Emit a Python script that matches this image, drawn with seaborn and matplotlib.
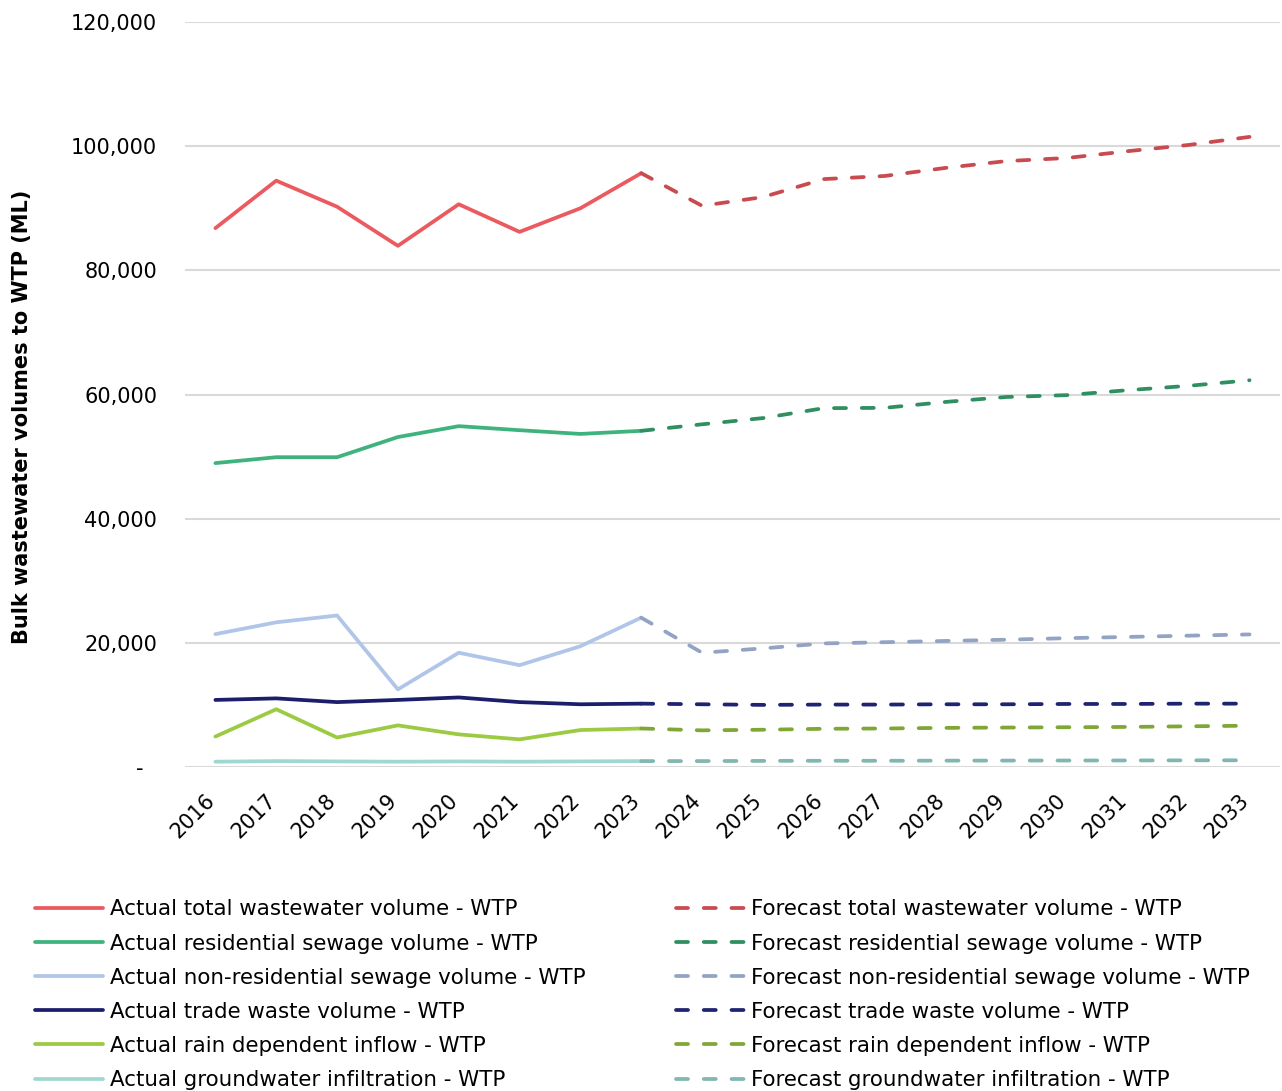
import matplotlib
matplotlib.use("Agg")
import matplotlib.pyplot as plt
import matplotlib.ticker as mticker
import matplotlib.transforms as mtransforms
from matplotlib.lines import Line2D
import seaborn as sns
import pandas as pd

# Years
actual_years = [2016, 2017, 2018, 2019, 2020, 2021, 2022, 2023]
forecast_years = [2024, 2025, 2026, 2027, 2028, 2029, 2030, 2031, 2032, 2033]

# Actual volumes (ML)
actual_total = [86800, 94450, 90250, 83950, 90650, 86200, 90000, 95650]
actual_residential = [48950, 49900, 49900, 53150, 54900, 54250, 53650, 54150]
actual_non_residential = [21400, 23300, 24400, 12500, 18400, 16400, 19450, 24050]
actual_trade = [10800, 11050, 10450, 10800, 11200, 10450, 10100, 10200]
actual_rain = [4900, 9300, 4750, 6700, 5250, 4450, 5950, 6200]
actual_groundwater = [850, 950, 900, 850, 900, 850, 900, 950]

# Forecast volumes (ML)
forecast_total = [90400, 91800, 94700, 95200, 96500, 97600, 98100, 99200, 100200, 101500]
forecast_residential = [55200, 56200, 57800, 57850, 58800, 59600, 59900, 60700, 61400, 62300]
forecast_non_residential = [18400, 19100, 19900, 20100, 20300, 20500, 20750, 20950, 21150, 21350]
forecast_trade = [10100, 10000, 10050, 10050, 10100, 10100, 10150, 10150, 10200, 10200]
forecast_rain = [5900, 6000, 6150, 6200, 6300, 6350, 6400, 6450, 6550, 6650]
forecast_groundwater = [950, 980, 1000, 1000, 1020, 1030, 1040, 1050, 1070, 1080]

series_names = [
    "total wastewater volume",
    "residential sewage volume",
    "non-residential sewage volume",
    "trade waste volume",
    "rain dependent inflow",
    "groundwater infiltration",
]
actual_values = [actual_total, actual_residential, actual_non_residential,
                 actual_trade, actual_rain, actual_groundwater]
forecast_values = [forecast_total, forecast_residential, forecast_non_residential,
                   forecast_trade, forecast_rain, forecast_groundwater]
actual_colors = ["#EB5A5E", "#3FB37C", "#B0C5E8", "#1B1E6A", "#9CCA42", "#A0D8D1"]
forecast_colors = ["#C94B50", "#2F8F60", "#92A3C3", "#1E2470", "#80A636", "#82B6B0"]

sns.set_theme(style="white")
plt.rcParams["font.family"] = ["DejaVu Sans"]
plt.rcParams["text.color"] = "#000000"

fig = plt.figure(figsize=(12.82, 10.91), dpi=100)
ax = fig.add_axes([0.1443, 0.2970, 0.8541, 0.6828])

LW = 2.7
dash = (0, (3.2, 4.2))

for name, a_vals, f_vals, ac, fc in zip(series_names, actual_values, forecast_values,
                                        actual_colors, forecast_colors):
    df_a = pd.DataFrame({"Year": actual_years, "Volume": a_vals})
    sns.lineplot(data=df_a, x="Year", y="Volume", ax=ax, color=ac, lw=LW,
                 solid_capstyle="round", solid_joinstyle="round")
    df_f = pd.DataFrame({"Year": [actual_years[-1]] + forecast_years,
                         "Volume": [a_vals[-1]] + f_vals})
    sns.lineplot(data=df_f, x="Year", y="Volume", ax=ax, color=fc, lw=LW,
                 linestyle=dash, dash_capstyle="round", dash_joinstyle="round")

ax.set_xlim(2015.5, 2033.5)
ax.set_ylim(0, 120000)
ax.set_yticks(range(0, 120001, 20000))
ax.yaxis.set_major_formatter(mticker.FuncFormatter(
    lambda v, p: "-  " if v == 0 else f"{v:,.0f}"))
ax.set_xticks(actual_years + forecast_years)
ax.set_xticklabels([str(y) for y in actual_years + forecast_years])

for s in ax.spines.values():
    s.set_visible(False)
ax.grid(axis="y", color="#D9D9D9", lw=1.5)
ax.grid(axis="x", visible=False)
ax.set_axisbelow(True)

ax.tick_params(axis="y", length=0, pad=20, labelsize=15, colors="#000000")
ax.tick_params(axis="x", length=0, pad=22, labelsize=15, colors="#000000")
shift = mtransforms.ScaledTranslation(-4 / 100, 0, fig.dpi_scale_trans)
for lbl in ax.get_xticklabels():
    lbl.set_rotation(45)
    lbl.set_ha("right")
    lbl.set_va("center")
    lbl.set_rotation_mode("anchor")
    lbl.set_transform(lbl.get_transform() + shift)

ax.set_xlabel("")
ax.set_ylabel("Bulk wastewater volumes to WTP (ML)", fontsize=15,
              fontweight="bold", color="#000000")
ax.yaxis.set_label_coords(-0.140, 0.4705)

handles = []
labels = []
for name, ac in zip(series_names, actual_colors):
    handles.append(Line2D([], [], color=ac, lw=LW, solid_capstyle="round"))
    labels.append(f"Actual {name} - WTP")
for name, fc in zip(series_names, forecast_colors):
    handles.append(Line2D([], [], color=fc, lw=LW, linestyle=(0, (3.2, 4.2)),
                          dash_capstyle="round"))
    labels.append(f"Forecast {name} - WTP")

leg = fig.legend(handles, labels, loc="upper left", bbox_to_anchor=(0.0273, 0.1756),
                 ncol=2, frameon=False, fontsize=15.4, handlelength=3.18,
                 handletextpad=0.33, columnspacing=4.2, labelspacing=0.66,
                 borderpad=0, borderaxespad=0)
for t in leg.get_texts():
    t.set_color("#000000")

fig.savefig("out.png", dpi=100)
